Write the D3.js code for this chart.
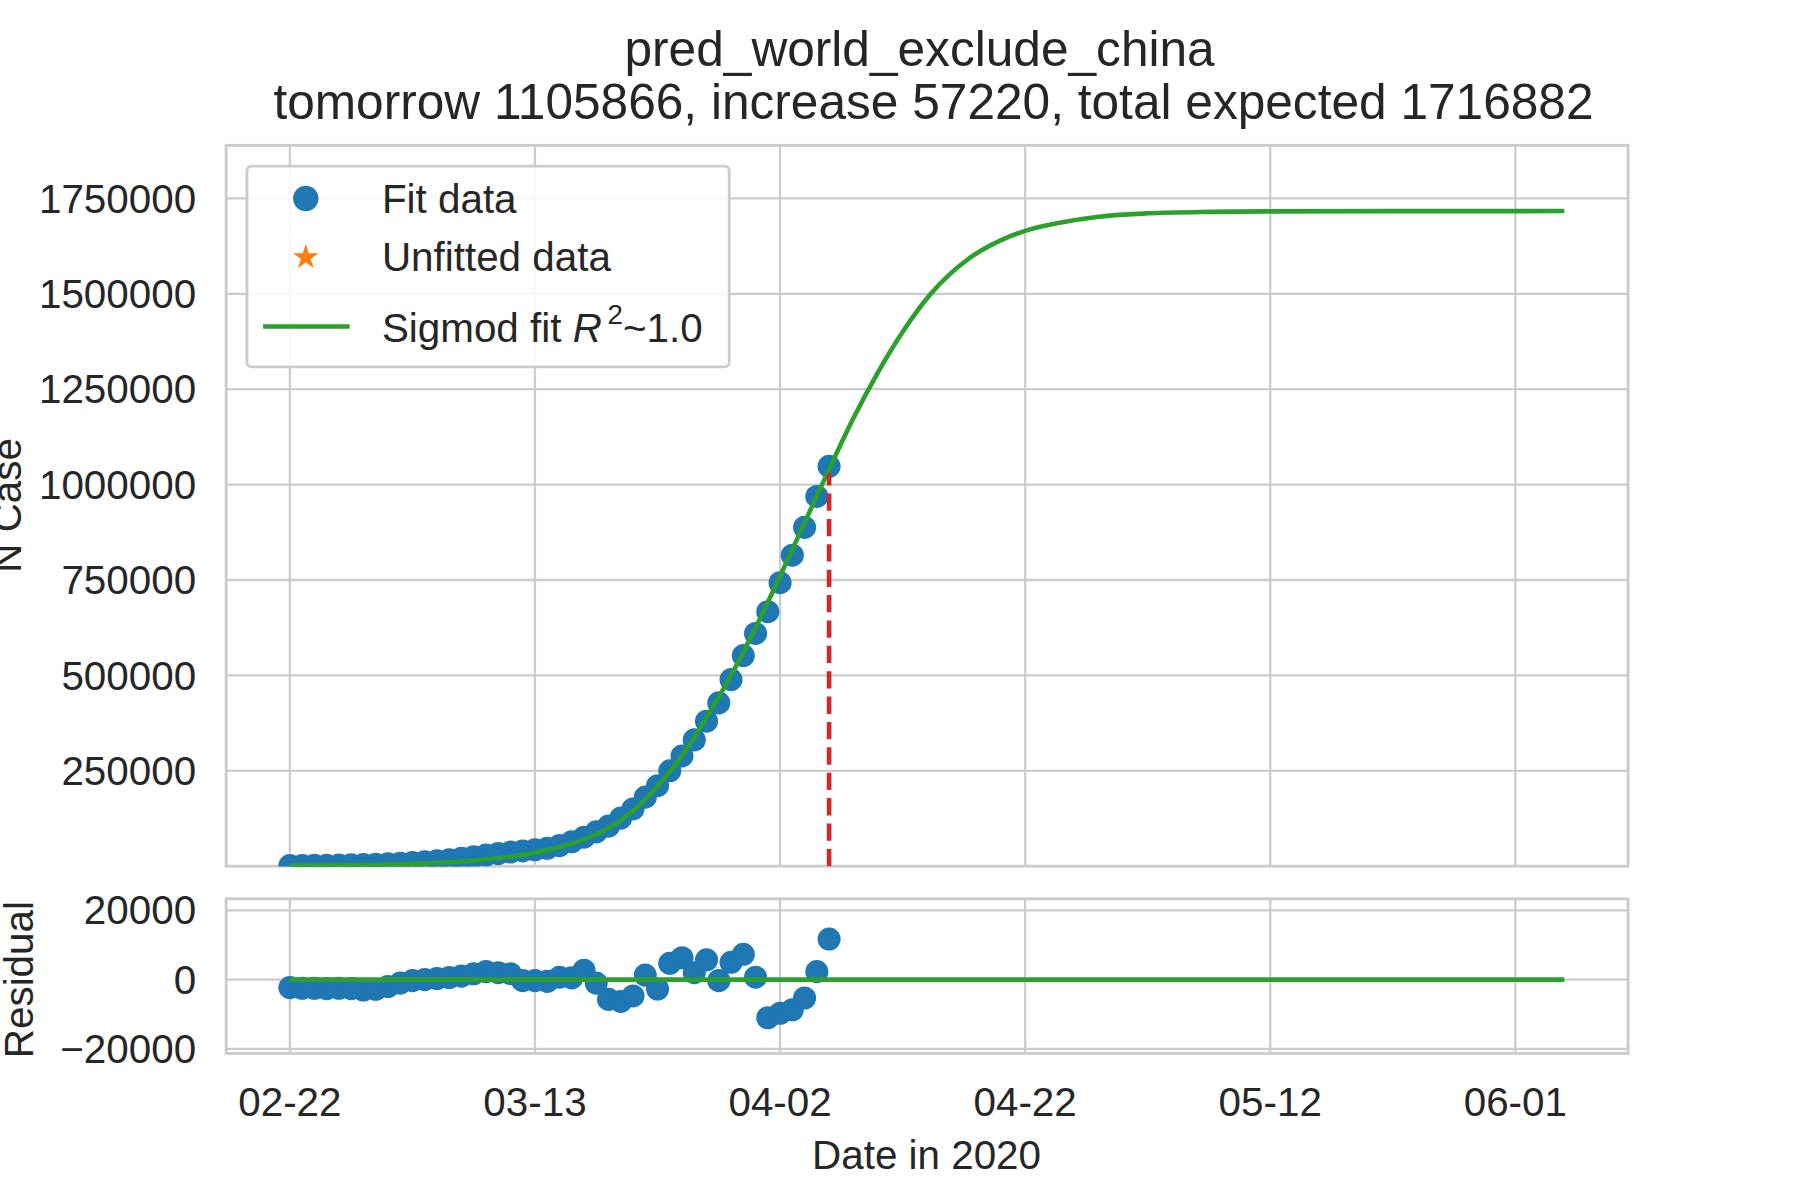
<!DOCTYPE html><html><head><meta charset="utf-8">
<script src="https://cdn.jsdelivr.net/npm/d3@7"></script>
<style>body{margin:0;background:#fff}svg{display:block}text{font-family:"Liberation Sans",Arial,sans-serif;fill:#262626}</style>
</head><body><svg id="c" width="1800" height="1200" viewBox="0 0 1560 1040"></svg>
<script>
const startDate = new Date(2020,1,22);
const caseValues = [1700,1900,2200,2500,2900,3500,4300,5300,6500,7900,9600,11700,14200,17000,20500,24500,29000,33000,37000,40000,43000,
  47000,54000,64000,76000,90000,105000,126000,150000,181000,211000,250000,289000,331000,380000,428000,489000,552000,610000,667000,743000,815000,888000,969000,1048000];
const residualValues = [-2300,-2500,-2500,-2600,-2500,-2600,-3000,-2800,-2000,-1000,-300,0,300,600,1000,1700,2300,2000,1700,-300,-300,
  -500,700,500,2700,-1000,-5700,-6300,-4700,1300,-2700,4700,6300,2000,5700,-300,5000,7300,700,-11000,-9700,-8700,-5300,2300,11700];
const fitDays = [0,5,10,15,20,24,26,28,30,32,34,36,38,40,42,44,46,48,50,52.3,55.3,58,60,62.8,66,70,75,80,90,104];
const fitValues = [2000,3000,6000,15000,35000,70000,100000,145000,210000,290000,390000,500000,625000,760000,900000,1040000,1175000,1295000,1400000,1500000,1590000,1640000,1665000,1686000,1702000,1711000,1714800,1716000,1716700,1716882];
const yTicks = [250000,500000,750000,1000000,1250000,1500000,1750000];
const rTicks = [-20000,0,20000];
const xTickDays = [0,20,40,60,80,100];
const fitEndDay = 44;

const svg = d3.select("#c");
const L=196,R=1411;
const x = d3.scaleLinear().domain([-5.2,109.2]).range([L,R]);
const y = d3.scaleLinear().domain([0,1889000]).range([750.7,126]);
const yr = d3.scaleLinear().domain([-21300,23300]).range([913,779]);
const grid="#cccccc";
const FS=35;

function panel(ys,top,bot,ticks){
  const g=svg.append("g");
  g.selectAll(".h").data(ticks).join("line").attr("x1",L).attr("x2",R).attr("y1",d=>ys(d)).attr("y2",d=>ys(d)).attr("stroke",grid).attr("stroke-width",2);
  g.selectAll(".v").data(xTickDays).join("line").attr("x1",d=>x(d)).attr("x2",d=>x(d)).attr("y1",top).attr("y2",bot).attr("stroke",grid).attr("stroke-width",2);
  g.append("rect").attr("x",L).attr("y",top).attr("width",R-L).attr("height",bot-top).attr("fill","none").attr("stroke",grid).attr("stroke-width",2.5);
  g.selectAll(".t").data(ticks).join("text").attr("x",L-26).attr("y",d=>ys(d)).attr("dy","0.35em").attr("text-anchor","end").attr("font-size",FS)
   .text(d=>d<0?"\u2212"+Math.abs(d):d);
}
panel(y,126,750.7,yTicks);
panel(yr,779,913,rTicks);
const fmt=d3.timeFormat("%m-%d");
svg.selectAll(".xt").data(xTickDays).join("text").attr("x",d=>x(d)).attr("y",967).attr("text-anchor","middle").attr("font-size",FS).text(d=>fmt(d3.timeDay.offset(startDate,d)));
svg.append("text").attr("x",803).attr("y",1013).attr("text-anchor","middle").attr("font-size",FS).text("Date in 2020");
svg.append("text").attr("transform","translate(18,438) rotate(-90)").attr("text-anchor","middle").attr("font-size",FS).text("N Case");
svg.append("text").attr("transform","translate(29,849) rotate(-90)").attr("text-anchor","middle").attr("font-size",FS).text("Residual");
svg.append("text").attr("x",797).attr("y",57).attr("text-anchor","middle").attr("font-size",43).text("pred_world_exclude_china");
svg.append("text").attr("x",809).attr("y",103).attr("text-anchor","middle").attr("font-size",43).text("tomorrow 1105866, increase 57220, total expected 1716882");

svg.append("clipPath").attr("id","cm").append("rect").attr("x",L).attr("y",126).attr("width",R-L).attr("height",625);
const main=svg.append("g").attr("clip-path","url(#cm)");
const blue="#1f77b4",green="#2ca02c",red="#d62728";
main.selectAll(".p").data(caseValues).join("circle").attr("cx",(d,i)=>x(i)).attr("cy",d=>y(d)).attr("r",10).attr("fill",blue);
main.append("path").datum(fitDays.map((d,i)=>[d,fitValues[i]])).attr("fill","none").attr("stroke",green).attr("stroke-width",4)
  .attr("d",d3.line().x(d=>x(d[0])).y(d=>y(d[1])).curve(d3.curveMonotoneX));
main.append("line").attr("x1",x(fitEndDay)).attr("x2",x(fitEndDay)).attr("y1",y(0)).attr("y2",y(1030000)).attr("stroke",red).attr("stroke-width",4).attr("stroke-dasharray","15,7");

const res=svg.append("g");
res.selectAll(".r").data(residualValues).join("circle").attr("cx",(d,i)=>x(i)).attr("cy",d=>yr(d)).attr("r",10).attr("fill",blue);
res.append("line").attr("x1",x(0)).attr("x2",x(104)).attr("y1",yr(0)).attr("y2",yr(0)).attr("stroke",green).attr("stroke-width",4);

const lg=svg.append("g");
lg.append("rect").attr("x",214).attr("y",144).attr("width",418).attr("height",174).attr("rx",4).attr("fill","#fff").attr("fill-opacity",0.85).attr("stroke",grid).attr("stroke-width",2.5);
lg.append("circle").attr("cx",265).attr("cy",172).attr("r",11).attr("fill",blue);
lg.append("path").attr("d",d3.symbol(d3.symbolStar,150)()).attr("transform","translate(265,223)").attr("fill","#ff7f0e");
lg.append("line").attr("x1",228).attr("x2",303).attr("y1",283).attr("y2",283).attr("stroke",green).attr("stroke-width",4);
lg.append("text").attr("x",331).attr("y",185).attr("font-size",FS).text("Fit data");
lg.append("text").attr("x",331).attr("y",235).attr("font-size",FS).text("Unfitted data");
const t3=lg.append("text").attr("x",331).attr("y",296).attr("font-size",FS);
t3.append("tspan").text("Sigmod fit ");
t3.append("tspan").attr("font-style","italic").text("R");
t3.append("tspan").attr("font-size",24).attr("dy",-15).attr("dx",5).text("2");
t3.append("tspan").attr("dy",15).text("~1.0");
</script></body></html>
